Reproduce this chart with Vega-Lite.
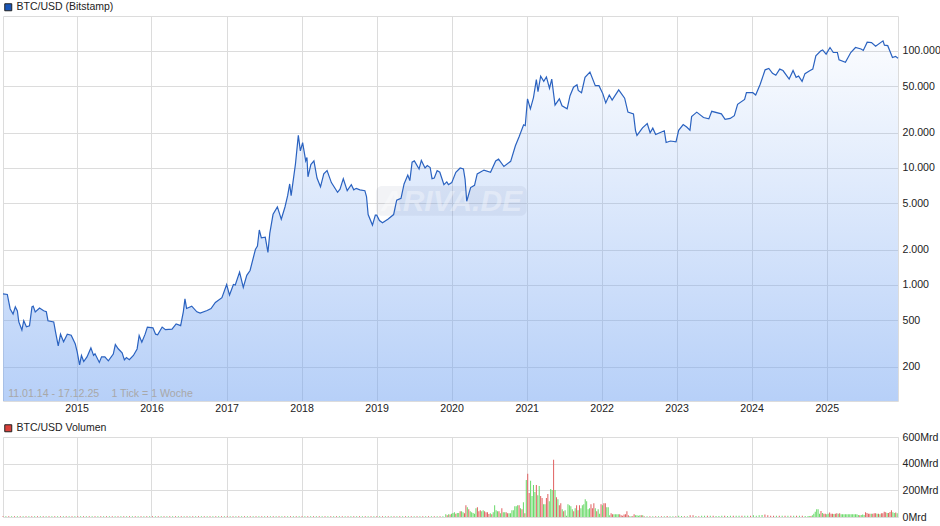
{"$schema":"https://vega.github.io/schema/vega-lite/v6.json","padding":{"left":0,"top":1,"right":0,"bottom":0},"background":"white","bounds":"flush","spacing":36,"resolve":{"scale":{"fill":"independent","color":"independent"},"legend":{"fill":"independent"}},"config":{"view":{"stroke":"#dcdcdc","strokeWidth":1},"font":"Liberation Sans","axis":{"gridColor":"#dcdcdc","gridWidth":1,"ticks":false,"domain":false,"labelFont":"Liberation Sans","labelFontSize":10.6,"labelColor":"#222222","title":null,"labelOverlap":false,"labelBound":false,"labelFlush":false},"legend":{"orient":"none","legendX":0,"padding":0,"title":null,"symbolType":"square","symbolSize":49,"symbolStrokeColor":"#222222","symbolStrokeWidth":1,"labelFont":"Liberation Sans","labelFontSize":10.5,"labelColor":"#222222","labelOffset":3}},"datasets":{"price":[
{"d":"2014-01-11","p":840},{"d":"2014-02-01","p":830},{"d":"2014-02-15","p":624},{"d":"2014-03-01","p":565},{"d":"2014-03-12","p":650},{"d":"2014-03-22","p":600},{"d":"2014-03-29","p":483},{"d":"2014-04-13","p":412},{"d":"2014-04-22","p":495},{"d":"2014-05-05","p":440},{"d":"2014-05-20","p":448},{"d":"2014-06-01","p":650},{"d":"2014-06-07","p":660},{"d":"2014-06-17","p":588},{"d":"2014-07-08","p":635},{"d":"2014-07-28","p":602},{"d":"2014-08-10","p":590},{"d":"2014-08-18","p":495},{"d":"2014-09-15","p":483},{"d":"2014-09-24","p":396},{"d":"2014-10-07","p":302},{"d":"2014-10-18","p":380},{"d":"2014-11-02","p":327},{"d":"2014-11-20","p":380},{"d":"2014-12-09","p":372},{"d":"2014-12-29","p":313},{"d":"2015-01-07","p":270},{"d":"2015-01-19","p":208},{"d":"2015-01-28","p":250},{"d":"2015-02-08","p":222},{"d":"2015-02-24","p":243},{"d":"2015-03-15","p":290},{"d":"2015-03-28","p":250},{"d":"2015-04-04","p":258},{"d":"2015-04-25","p":218},{"d":"2015-05-06","p":243},{"d":"2015-05-22","p":243},{"d":"2015-06-08","p":225},{"d":"2015-07-02","p":257},{"d":"2015-07-12","p":310},{"d":"2015-07-26","p":285},{"d":"2015-08-14","p":263},{"d":"2015-08-25","p":229},{"d":"2015-09-04","p":240},{"d":"2015-09-18","p":230},{"d":"2015-10-08","p":250},{"d":"2015-10-26","p":284},{"d":"2015-11-05","p":370},{"d":"2015-11-18","p":325},{"d":"2015-12-04","p":380},{"d":"2015-12-15","p":437},{"d":"2016-01-11","p":430},{"d":"2016-01-24","p":380},{"d":"2016-02-03","p":375},{"d":"2016-02-25","p":437},{"d":"2016-03-12","p":415},{"d":"2016-04-13","p":420},{"d":"2016-05-03","p":465},{"d":"2016-05-25","p":450},{"d":"2016-06-07","p":590},{"d":"2016-06-15","p":760},{"d":"2016-06-23","p":630},{"d":"2016-07-18","p":660},{"d":"2016-08-12","p":590},{"d":"2016-08-28","p":575},{"d":"2016-10-01","p":605},{"d":"2016-10-20","p":630},{"d":"2016-11-10","p":710},{"d":"2016-12-12","p":780},{"d":"2017-01-04","p":1010},{"d":"2017-01-18","p":820},{"d":"2017-02-06","p":1010},{"d":"2017-02-15","p":1000},{"d":"2017-03-08","p":1290},{"d":"2017-03-26","p":955},{"d":"2017-04-12","p":1210},{"d":"2017-04-28","p":1330},{"d":"2017-05-24","p":2010},{"d":"2017-06-03","p":2150},{"d":"2017-06-12","p":2950},{"d":"2017-06-22","p":2530},{"d":"2017-07-11","p":2560},{"d":"2017-07-24","p":1900},{"d":"2017-08-02","p":2760},{"d":"2017-08-18","p":4020},{"d":"2017-09-08","p":4650},{"d":"2017-09-27","p":3650},{"d":"2017-10-15","p":4640},{"d":"2017-10-28","p":5800},{"d":"2017-11-07","p":7300},{"d":"2017-11-14","p":5800},{"d":"2017-12-05","p":10800},{"d":"2017-12-19","p":19000},{"d":"2017-12-29","p":14000},{"d":"2018-01-09","p":16500},{"d":"2018-01-24","p":11500},{"d":"2018-01-30","p":12300},{"d":"2018-02-04","p":8400},{"d":"2018-02-18","p":10700},{"d":"2018-03-05","p":11500},{"d":"2018-03-20","p":8200},{"d":"2018-04-06","p":6900},{"d":"2018-04-22","p":8900},{"d":"2018-05-08","p":9500},{"d":"2018-05-29","p":7500},{"d":"2018-06-28","p":6200},{"d":"2018-07-10","p":6600},{"d":"2018-07-26","p":8100},{"d":"2018-08-14","p":6400},{"d":"2018-09-03","p":7200},{"d":"2018-09-15","p":6500},{"d":"2018-09-27","p":6700},{"d":"2018-10-15","p":6500},{"d":"2018-11-08","p":6400},{"d":"2018-11-16","p":5700},{"d":"2018-11-24","p":4000},{"d":"2018-12-15","p":3250},{"d":"2018-12-29","p":3950},{"d":"2019-01-05","p":3950},{"d":"2019-01-18","p":3550},{"d":"2019-02-02","p":3400},{"d":"2019-02-28","p":3650},{"d":"2019-03-28","p":4000},{"d":"2019-04-12","p":5300},{"d":"2019-05-03","p":5500},{"d":"2019-05-18","p":7300},{"d":"2019-06-05","p":8700},{"d":"2019-06-15","p":7800},{"d":"2019-06-26","p":11200},{"d":"2019-07-07","p":11500},{"d":"2019-07-30","p":9800},{"d":"2019-08-10","p":11600},{"d":"2019-08-28","p":10000},{"d":"2019-09-08","p":10500},{"d":"2019-09-22","p":10100},{"d":"2019-10-01","p":8100},{"d":"2019-10-12","p":8200},{"d":"2019-10-26","p":9500},{"d":"2019-11-08","p":9200},{"d":"2019-11-28","p":7200},{"d":"2019-12-12","p":7600},{"d":"2019-12-20","p":7200},{"d":"2020-01-05","p":7500},{"d":"2020-01-25","p":9200},{"d":"2020-02-15","p":10000},{"d":"2020-03-02","p":9800},{"d":"2020-03-10","p":8000},{"d":"2020-03-18","p":5200},{"d":"2020-04-06","p":6800},{"d":"2020-04-25","p":7100},{"d":"2020-05-08","p":8900},{"d":"2020-06-10","p":9600},{"d":"2020-07-12","p":9200},{"d":"2020-08-06","p":11500},{"d":"2020-08-20","p":11900},{"d":"2020-09-15","p":10300},{"d":"2020-10-18","p":11400},{"d":"2020-11-10","p":15500},{"d":"2020-11-28","p":18500},{"d":"2020-12-20","p":23400},{"d":"2020-12-28","p":23000},{"d":"2021-01-08","p":39000},{"d":"2021-01-22","p":32000},{"d":"2021-02-06","p":40000},{"d":"2021-02-20","p":57000},{"d":"2021-02-28","p":45000},{"d":"2021-03-13","p":60800},{"d":"2021-03-28","p":55000},{"d":"2021-04-10","p":60000},{"d":"2021-04-25","p":48000},{"d":"2021-05-06","p":57500},{"d":"2021-05-22","p":34500},{"d":"2021-06-12","p":39000},{"d":"2021-06-25","p":34000},{"d":"2021-07-20","p":32000},{"d":"2021-08-03","p":41500},{"d":"2021-08-20","p":49000},{"d":"2021-09-06","p":51500},{"d":"2021-09-12","p":46000},{"d":"2021-09-28","p":44000},{"d":"2021-10-15","p":59500},{"d":"2021-11-08","p":66000},{"d":"2021-12-04","p":50500},{"d":"2021-12-22","p":50500},{"d":"2022-01-10","p":43000},{"d":"2022-01-24","p":36000},{"d":"2022-02-10","p":42000},{"d":"2022-02-24","p":38000},{"d":"2022-03-28","p":46500},{"d":"2022-04-26","p":39500},{"d":"2022-05-12","p":30000},{"d":"2022-06-08","p":29000},{"d":"2022-06-18","p":20800},{"d":"2022-06-25","p":19000},{"d":"2022-07-22","p":22000},{"d":"2022-08-14","p":24000},{"d":"2022-08-28","p":20000},{"d":"2022-09-10","p":21900},{"d":"2022-09-24","p":19300},{"d":"2022-11-05","p":20800},{"d":"2022-11-14","p":16500},{"d":"2022-12-05","p":17000},{"d":"2023-01-01","p":16700},{"d":"2023-01-14","p":21000},{"d":"2023-02-05","p":23500},{"d":"2023-02-22","p":22400},{"d":"2023-03-10","p":21000},{"d":"2023-03-18","p":27500},{"d":"2023-04-12","p":30000},{"d":"2023-05-15","p":27000},{"d":"2023-06-10","p":26300},{"d":"2023-06-24","p":30500},{"d":"2023-08-10","p":29000},{"d":"2023-08-28","p":26000},{"d":"2023-09-22","p":26500},{"d":"2023-10-12","p":28000},{"d":"2023-10-28","p":35000},{"d":"2023-12-01","p":38500},{"d":"2023-12-10","p":44000},{"d":"2024-01-10","p":44000},{"d":"2024-01-24","p":42000},{"d":"2024-02-15","p":52000},{"d":"2024-03-10","p":69000},{"d":"2024-03-28","p":71000},{"d":"2024-04-15","p":64500},{"d":"2024-05-01","p":62000},{"d":"2024-05-20","p":70000},{"d":"2024-06-05","p":68000},{"d":"2024-07-05","p":57500},{"d":"2024-07-24","p":68000},{"d":"2024-08-08","p":59500},{"d":"2024-08-20","p":61000},{"d":"2024-09-06","p":55000},{"d":"2024-09-20","p":64000},{"d":"2024-10-15","p":68000},{"d":"2024-10-28","p":70000},{"d":"2024-11-12","p":91000},{"d":"2024-12-05","p":100000},{"d":"2024-12-15","p":102000},{"d":"2025-01-01","p":94000},{"d":"2025-01-20","p":107000},{"d":"2025-02-05","p":97000},{"d":"2025-02-25","p":97000},{"d":"2025-03-05","p":84000},{"d":"2025-04-05","p":80000},{"d":"2025-05-01","p":97000},{"d":"2025-05-24","p":107000},{"d":"2025-06-20","p":104000},{"d":"2025-07-01","p":101000},{"d":"2025-07-20","p":119000},{"d":"2025-08-10","p":118000},{"d":"2025-08-30","p":110000},{"d":"2025-10-05","p":122000},{"d":"2025-10-12","p":112000},{"d":"2025-10-28","p":111000},{"d":"2025-11-20","p":88000},{"d":"2025-12-05","p":90000},{"d":"2025-12-17","p":86500}],
"vol":[
{"d":"2014-01-11","v":5,"c":"r"},{"d":"2014-01-25","v":5,"c":"g"},{"d":"2014-02-08","v":5,"c":"r"},{"d":"2014-02-22","v":5,"c":"g"},{"d":"2014-03-08","v":5,"c":"r"},{"d":"2014-03-22","v":5,"c":"g"},{"d":"2014-04-05","v":5,"c":"r"},{"d":"2014-04-19","v":5,"c":"g"},{"d":"2014-05-03","v":5,"c":"r"},{"d":"2014-05-17","v":5,"c":"g"},{"d":"2014-05-31","v":5,"c":"r"},{"d":"2014-06-14","v":5,"c":"g"},{"d":"2014-06-28","v":5,"c":"r"},{"d":"2014-07-12","v":5,"c":"g"},{"d":"2014-07-26","v":5,"c":"r"},{"d":"2014-08-09","v":5,"c":"g"},{"d":"2014-08-23","v":5,"c":"r"},{"d":"2014-09-06","v":5,"c":"g"},{"d":"2014-09-20","v":5,"c":"r"},{"d":"2014-10-04","v":5,"c":"g"},{"d":"2014-10-18","v":5,"c":"r"},{"d":"2014-11-01","v":5,"c":"g"},{"d":"2014-11-15","v":5,"c":"r"},{"d":"2014-11-29","v":5,"c":"g"},{"d":"2014-12-13","v":5,"c":"r"},{"d":"2014-12-27","v":5,"c":"g"},{"d":"2015-01-10","v":5,"c":"r"},{"d":"2015-01-24","v":5,"c":"g"},{"d":"2015-02-07","v":5,"c":"r"},{"d":"2015-02-21","v":5,"c":"g"},{"d":"2015-03-07","v":5,"c":"r"},{"d":"2015-03-21","v":5,"c":"g"},{"d":"2015-04-04","v":5,"c":"r"},{"d":"2015-04-18","v":5,"c":"g"},{"d":"2015-05-02","v":5,"c":"r"},{"d":"2015-05-16","v":5,"c":"g"},{"d":"2015-05-30","v":5,"c":"r"},{"d":"2015-06-13","v":5,"c":"g"},{"d":"2015-06-27","v":5,"c":"r"},{"d":"2015-07-11","v":5,"c":"g"},{"d":"2015-07-25","v":5,"c":"r"},{"d":"2015-08-08","v":5,"c":"g"},{"d":"2015-08-22","v":5,"c":"r"},{"d":"2015-09-05","v":5,"c":"g"},{"d":"2015-09-19","v":5,"c":"r"},{"d":"2015-10-03","v":5,"c":"g"},{"d":"2015-10-17","v":5,"c":"r"},{"d":"2015-10-31","v":5,"c":"g"},{"d":"2015-11-14","v":5,"c":"r"},{"d":"2015-11-28","v":5,"c":"g"},{"d":"2015-12-12","v":5,"c":"r"},{"d":"2015-12-26","v":5,"c":"g"},{"d":"2016-01-09","v":5,"c":"r"},{"d":"2016-01-23","v":5,"c":"g"},{"d":"2016-02-06","v":5,"c":"r"},{"d":"2016-02-20","v":5,"c":"g"},{"d":"2016-03-05","v":5,"c":"r"},{"d":"2016-03-19","v":5,"c":"g"},{"d":"2016-04-02","v":5,"c":"r"},{"d":"2016-04-16","v":5,"c":"g"},{"d":"2016-04-30","v":5,"c":"r"},{"d":"2016-05-14","v":5,"c":"g"},{"d":"2016-05-28","v":5,"c":"r"},{"d":"2016-06-11","v":5,"c":"g"},{"d":"2016-06-25","v":5,"c":"r"},{"d":"2016-07-09","v":5,"c":"g"},{"d":"2016-07-23","v":5,"c":"r"},{"d":"2016-08-06","v":5,"c":"g"},{"d":"2016-08-20","v":5,"c":"r"},{"d":"2016-09-03","v":5,"c":"g"},{"d":"2016-09-17","v":5,"c":"r"},{"d":"2016-10-01","v":5,"c":"g"},{"d":"2016-10-15","v":5,"c":"r"},{"d":"2016-10-29","v":5,"c":"g"},{"d":"2016-11-12","v":5,"c":"r"},{"d":"2016-11-26","v":5,"c":"g"},{"d":"2016-12-10","v":5,"c":"r"},{"d":"2016-12-24","v":5,"c":"g"},{"d":"2017-01-07","v":5,"c":"r"},{"d":"2017-01-21","v":5,"c":"g"},{"d":"2017-02-04","v":5,"c":"r"},{"d":"2017-02-18","v":5,"c":"g"},{"d":"2017-03-04","v":5,"c":"r"},{"d":"2017-03-18","v":5,"c":"g"},{"d":"2017-04-01","v":5,"c":"r"},{"d":"2017-04-15","v":5,"c":"g"},{"d":"2017-04-29","v":5,"c":"r"},{"d":"2017-05-13","v":5,"c":"g"},{"d":"2017-05-27","v":5,"c":"r"},{"d":"2017-06-10","v":5,"c":"g"},{"d":"2017-06-24","v":5,"c":"r"},{"d":"2017-07-08","v":5,"c":"g"},{"d":"2017-07-22","v":5,"c":"r"},{"d":"2017-08-05","v":5,"c":"g"},{"d":"2017-08-19","v":5,"c":"r"},{"d":"2017-09-02","v":5,"c":"g"},{"d":"2017-09-16","v":5,"c":"r"},{"d":"2017-09-30","v":5,"c":"g"},{"d":"2017-10-14","v":5,"c":"r"},{"d":"2017-10-28","v":5,"c":"g"},{"d":"2017-11-11","v":5,"c":"r"},{"d":"2017-11-25","v":5,"c":"g"},{"d":"2017-12-09","v":5,"c":"r"},{"d":"2017-12-23","v":5,"c":"g"},{"d":"2018-01-06","v":5,"c":"r"},{"d":"2018-01-20","v":5,"c":"g"},{"d":"2018-02-03","v":5,"c":"r"},{"d":"2018-02-17","v":5,"c":"g"},{"d":"2018-03-03","v":5,"c":"r"},{"d":"2018-03-17","v":5,"c":"g"},{"d":"2018-03-31","v":5,"c":"r"},{"d":"2018-04-14","v":5,"c":"g"},{"d":"2018-04-28","v":5,"c":"r"},{"d":"2018-05-12","v":5,"c":"g"},{"d":"2018-05-26","v":5,"c":"r"},{"d":"2018-06-09","v":5,"c":"g"},{"d":"2018-06-23","v":5,"c":"r"},{"d":"2018-07-07","v":5,"c":"g"},{"d":"2018-07-21","v":5,"c":"r"},{"d":"2018-08-04","v":5,"c":"g"},{"d":"2018-08-18","v":5,"c":"r"},{"d":"2018-09-01","v":5,"c":"g"},{"d":"2018-09-15","v":5,"c":"r"},{"d":"2018-09-29","v":5,"c":"g"},{"d":"2018-10-13","v":5,"c":"r"},{"d":"2018-10-27","v":5,"c":"g"},{"d":"2018-11-10","v":5,"c":"r"},{"d":"2018-11-24","v":5,"c":"g"},{"d":"2018-12-08","v":5,"c":"r"},{"d":"2018-12-22","v":5,"c":"g"},{"d":"2019-01-05","v":5,"c":"r"},{"d":"2019-01-19","v":5,"c":"g"},{"d":"2019-02-02","v":5,"c":"r"},{"d":"2019-02-16","v":5,"c":"g"},{"d":"2019-03-02","v":5,"c":"r"},{"d":"2019-03-16","v":5,"c":"g"},{"d":"2019-03-30","v":5,"c":"r"},{"d":"2019-04-13","v":5,"c":"g"},{"d":"2019-04-27","v":5,"c":"r"},{"d":"2019-05-11","v":5,"c":"g"},{"d":"2019-05-25","v":5,"c":"r"},{"d":"2019-06-08","v":5,"c":"g"},{"d":"2019-06-22","v":5,"c":"r"},{"d":"2019-07-06","v":5,"c":"g"},{"d":"2019-07-20","v":5,"c":"r"},{"d":"2019-08-03","v":5,"c":"g"},{"d":"2019-08-17","v":5,"c":"r"},{"d":"2019-08-31","v":5,"c":"g"},{"d":"2019-09-14","v":5,"c":"r"},{"d":"2019-09-28","v":5,"c":"g"},{"d":"2019-10-12","v":5,"c":"r"},{"d":"2019-10-26","v":5,"c":"g"},{"d":"2019-11-09","v":5,"c":"r"},{"d":"2019-11-23","v":5,"c":"g"},
{"d":"2019-12-07","v":20,"c":"g"},{"d":"2019-12-14","v":13,"c":"r"},{"d":"2019-12-21","v":20,"c":"g"},{"d":"2019-12-28","v":18,"c":"r"},{"d":"2020-01-04","v":25,"c":"g"},{"d":"2020-01-11","v":30,"c":"g"},{"d":"2020-01-18","v":35,"c":"g"},{"d":"2020-01-25","v":25,"c":"r"},{"d":"2020-02-01","v":30,"c":"g"},{"d":"2020-02-08","v":30,"c":"g"},{"d":"2020-02-15","v":43,"c":"r"},{"d":"2020-02-22","v":43,"c":"g"},{"d":"2020-02-29","v":35,"c":"g"},{"d":"2020-03-07","v":28,"c":"r"},{"d":"2020-03-14","v":89,"c":"r"},{"d":"2020-03-21","v":73,"c":"g"},{"d":"2020-03-28","v":58,"c":"r"},{"d":"2020-04-04","v":43,"c":"g"},{"d":"2020-04-11","v":35,"c":"g"},{"d":"2020-04-18","v":30,"c":"g"},{"d":"2020-04-25","v":25,"c":"g"},{"d":"2020-05-02","v":66,"c":"g"},{"d":"2020-05-09","v":73,"c":"r"},{"d":"2020-05-16","v":43,"c":"r"},{"d":"2020-05-23","v":51,"c":"r"},{"d":"2020-05-30","v":43,"c":"g"},{"d":"2020-06-06","v":51,"c":"g"},{"d":"2020-06-13","v":43,"c":"r"},{"d":"2020-06-20","v":35,"c":"r"},{"d":"2020-06-27","v":35,"c":"r"},{"d":"2020-07-04","v":23,"c":"r"},{"d":"2020-07-11","v":28,"c":"g"},{"d":"2020-07-18","v":20,"c":"r"},{"d":"2020-07-25","v":35,"c":"g"},{"d":"2020-08-01","v":89,"c":"g"},{"d":"2020-08-08","v":51,"c":"g"},{"d":"2020-08-15","v":43,"c":"g"},{"d":"2020-08-22","v":43,"c":"r"},{"d":"2020-08-29","v":28,"c":"g"},{"d":"2020-09-05","v":66,"c":"r"},{"d":"2020-09-12","v":35,"c":"g"},{"d":"2020-09-19","v":35,"c":"g"},{"d":"2020-09-26","v":35,"c":"r"},{"d":"2020-10-03","v":28,"c":"r"},{"d":"2020-10-10","v":28,"c":"g"},{"d":"2020-10-17","v":28,"c":"g"},{"d":"2020-10-24","v":51,"c":"g"},{"d":"2020-10-31","v":51,"c":"g"},{"d":"2020-11-07","v":81,"c":"g"},{"d":"2020-11-14","v":81,"c":"g"},{"d":"2020-11-21","v":89,"c":"g"},{"d":"2020-11-28","v":89,"c":"r"},{"d":"2020-12-05","v":66,"c":"g"},{"d":"2020-12-12","v":58,"c":"r"},{"d":"2020-12-19","v":111,"c":"g"},{"d":"2020-12-26","v":28,"c":"r"},{"d":"2021-01-02","v":278,"c":"g"},{"d":"2021-01-09","v":324,"c":"r"},{"d":"2021-01-16","v":180,"c":"r"},{"d":"2021-01-23","v":271,"c":"g"},{"d":"2021-01-30","v":157,"c":"g"},{"d":"2021-02-06","v":240,"c":"g"},{"d":"2021-02-13","v":187,"c":"g"},{"d":"2021-02-20","v":240,"c":"r"},{"d":"2021-02-27","v":164,"c":"g"},{"d":"2021-03-06","v":233,"c":"g"},{"d":"2021-03-13","v":157,"c":"r"},{"d":"2021-03-20","v":142,"c":"r"},{"d":"2021-03-27","v":96,"c":"g"},{"d":"2021-04-03","v":96,"c":"g"},{"d":"2021-04-10","v":142,"c":"r"},{"d":"2021-04-17","v":172,"c":"r"},{"d":"2021-04-24","v":119,"c":"g"},{"d":"2021-05-01","v":210,"c":"g"},{"d":"2021-05-08","v":202,"c":"g"},{"d":"2021-05-15","v":430,"c":"r"},{"d":"2021-05-22","v":202,"c":"g"},{"d":"2021-05-29","v":149,"c":"r"},{"d":"2021-06-05","v":134,"c":"g"},{"d":"2021-06-12","v":89,"c":"r"},{"d":"2021-06-19","v":104,"c":"r"},{"d":"2021-06-26","v":58,"c":"g"},{"d":"2021-07-03","v":43,"c":"r"},{"d":"2021-07-10","v":51,"c":"g"},{"d":"2021-07-17","v":10,"c":"g"},{"d":"2021-07-24","v":96,"c":"g"},{"d":"2021-07-31","v":89,"c":"g"},{"d":"2021-08-07","v":81,"c":"g"},{"d":"2021-08-14","v":58,"c":"g"},{"d":"2021-08-21","v":43,"c":"r"},{"d":"2021-08-28","v":66,"c":"g"},{"d":"2021-09-04","v":89,"c":"r"},{"d":"2021-09-11","v":51,"c":"g"},{"d":"2021-09-18","v":89,"c":"r"},{"d":"2021-09-25","v":66,"c":"g"},{"d":"2021-10-02","v":89,"c":"g"},{"d":"2021-10-09","v":96,"c":"g"},{"d":"2021-10-16","v":134,"c":"g"},{"d":"2021-10-23","v":119,"c":"g"},{"d":"2021-10-30","v":58,"c":"g"},{"d":"2021-11-06","v":66,"c":"g"},{"d":"2021-11-13","v":96,"c":"r"},{"d":"2021-11-20","v":66,"c":"r"},{"d":"2021-11-27","v":104,"c":"r"},{"d":"2021-12-04","v":66,"c":"g"},{"d":"2021-12-11","v":43,"c":"r"},{"d":"2021-12-18","v":58,"c":"g"},{"d":"2021-12-25","v":25,"c":"g"},{"d":"2022-01-01","v":96,"c":"r"},{"d":"2022-01-08","v":89,"c":"g"},{"d":"2022-01-15","v":104,"c":"r"},{"d":"2022-01-22","v":104,"c":"r"},{"d":"2022-01-29","v":73,"c":"g"},{"d":"2022-02-05","v":73,"c":"g"},{"d":"2022-02-12","v":13,"c":"g"},{"d":"2022-02-19","v":28,"c":"r"},{"d":"2022-02-26","v":20,"c":"r"},{"d":"2022-03-05","v":20,"c":"g"},{"d":"2022-03-12","v":20,"c":"g"},{"d":"2022-03-19","v":20,"c":"g"},{"d":"2022-03-26","v":20,"c":"g"},{"d":"2022-04-02","v":20,"c":"r"},{"d":"2022-04-09","v":13,"c":"r"},{"d":"2022-04-16","v":10,"c":"r"},{"d":"2022-04-23","v":18,"c":"r"},{"d":"2022-04-30","v":20,"c":"r"},{"d":"2022-05-07","v":43,"c":"r"},{"d":"2022-05-14","v":13,"c":"r"},{"d":"2022-05-21","v":5,"c":"g"},{"d":"2022-05-28","v":5,"c":"g"},{"d":"2022-06-04","v":5,"c":"r"},{"d":"2022-06-11","v":20,"c":"r"},{"d":"2022-06-18","v":13,"c":"g"},{"d":"2022-06-25","v":13,"c":"g"},{"d":"2022-07-02","v":10,"c":"g"},{"d":"2022-07-09","v":13,"c":"g"},{"d":"2022-07-16","v":13,"c":"r"},{"d":"2022-07-23","v":13,"c":"g"},{"d":"2022-07-30","v":5,"c":"r"},
{"d":"2022-08-13","v":5,"c":"g"},{"d":"2022-08-27","v":5,"c":"r"},{"d":"2022-09-10","v":5,"c":"g"},{"d":"2022-09-24","v":5,"c":"r"},{"d":"2022-10-08","v":5,"c":"g"},{"d":"2022-10-22","v":5,"c":"r"},{"d":"2022-11-05","v":5,"c":"g"},{"d":"2022-11-19","v":8,"c":"r"},{"d":"2022-12-03","v":5,"c":"g"},{"d":"2022-12-17","v":5,"c":"g"},{"d":"2022-12-31","v":5,"c":"r"},{"d":"2023-01-14","v":10,"c":"g"},{"d":"2023-01-28","v":8,"c":"g"},{"d":"2023-02-11","v":5,"c":"r"},{"d":"2023-02-25","v":5,"c":"g"},{"d":"2023-03-11","v":13,"c":"r"},{"d":"2023-03-25","v":13,"c":"r"},{"d":"2023-04-08","v":8,"c":"g"},{"d":"2023-04-22","v":5,"c":"r"},{"d":"2023-05-06","v":10,"c":"g"},{"d":"2023-05-20","v":10,"c":"g"},{"d":"2023-06-03","v":10,"c":"r"},{"d":"2023-06-17","v":10,"c":"g"},{"d":"2023-07-01","v":10,"c":"r"},{"d":"2023-07-15","v":8,"c":"g"},{"d":"2023-07-29","v":8,"c":"g"},{"d":"2023-08-12","v":10,"c":"g"},{"d":"2023-08-26","v":10,"c":"r"},{"d":"2023-09-09","v":8,"c":"g"},{"d":"2023-09-23","v":10,"c":"g"},{"d":"2023-10-07","v":10,"c":"r"},{"d":"2023-10-21","v":10,"c":"g"},{"d":"2023-11-04","v":10,"c":"g"},{"d":"2023-11-18","v":10,"c":"r"},{"d":"2023-12-02","v":10,"c":"g"},{"d":"2023-12-16","v":10,"c":"g"},{"d":"2023-12-30","v":10,"c":"r"},{"d":"2024-01-13","v":13,"c":"g"},{"d":"2024-01-27","v":10,"c":"g"},{"d":"2024-02-10","v":13,"c":"g"},{"d":"2024-02-24","v":15,"c":"g"},{"d":"2024-03-09","v":18,"c":"r"},{"d":"2024-03-23","v":13,"c":"r"},{"d":"2024-04-06","v":10,"c":"r"},{"d":"2024-04-20","v":10,"c":"r"},{"d":"2024-05-04","v":10,"c":"g"},{"d":"2024-05-18","v":10,"c":"r"},{"d":"2024-06-01","v":10,"c":"g"},{"d":"2024-06-15","v":10,"c":"r"},{"d":"2024-06-29","v":10,"c":"g"},{"d":"2024-07-13","v":10,"c":"r"},{"d":"2024-07-27","v":10,"c":"g"},{"d":"2024-08-10","v":10,"c":"r"},{"d":"2024-08-24","v":10,"c":"g"},{"d":"2024-09-07","v":10,"c":"r"},{"d":"2024-09-21","v":8,"c":"g"},
{"d":"2024-10-05","v":8,"c":"g"},{"d":"2024-10-12","v":5,"c":"g"},{"d":"2024-10-19","v":8,"c":"r"},{"d":"2024-10-26","v":13,"c":"g"},{"d":"2024-11-02","v":25,"c":"g"},{"d":"2024-11-09","v":40,"c":"g"},{"d":"2024-11-16","v":58,"c":"g"},{"d":"2024-11-23","v":58,"c":"g"},{"d":"2024-11-30","v":25,"c":"g"},{"d":"2024-12-07","v":45,"c":"r"},{"d":"2024-12-14","v":30,"c":"g"},{"d":"2024-12-21","v":25,"c":"r"},{"d":"2024-12-28","v":25,"c":"r"},{"d":"2025-01-04","v":20,"c":"g"},{"d":"2025-01-11","v":25,"c":"g"},{"d":"2025-01-18","v":33,"c":"r"},{"d":"2025-01-25","v":25,"c":"r"},{"d":"2025-02-01","v":25,"c":"r"},{"d":"2025-02-08","v":23,"c":"g"},{"d":"2025-02-15","v":25,"c":"r"},{"d":"2025-02-22","v":28,"c":"r"},{"d":"2025-03-01","v":25,"c":"g"},{"d":"2025-03-08","v":28,"c":"r"},{"d":"2025-03-15","v":20,"c":"g"},{"d":"2025-03-22","v":20,"c":"g"},{"d":"2025-03-29","v":20,"c":"g"},{"d":"2025-04-05","v":20,"c":"g"},{"d":"2025-04-12","v":20,"c":"g"},{"d":"2025-04-19","v":20,"c":"g"},{"d":"2025-04-26","v":20,"c":"g"},{"d":"2025-05-03","v":20,"c":"g"},{"d":"2025-05-10","v":20,"c":"g"},{"d":"2025-05-17","v":20,"c":"g"},{"d":"2025-05-24","v":20,"c":"g"},{"d":"2025-05-31","v":20,"c":"g"},{"d":"2025-06-07","v":15,"c":"g"},{"d":"2025-06-14","v":13,"c":"r"},{"d":"2025-06-21","v":15,"c":"g"},{"d":"2025-06-28","v":18,"c":"g"},{"d":"2025-07-05","v":15,"c":"g"},{"d":"2025-07-12","v":35,"c":"r"},{"d":"2025-07-19","v":30,"c":"r"},{"d":"2025-07-26","v":25,"c":"r"},{"d":"2025-08-02","v":25,"c":"r"},{"d":"2025-08-09","v":25,"c":"g"},{"d":"2025-08-16","v":25,"c":"r"},{"d":"2025-08-23","v":28,"c":"r"},{"d":"2025-08-30","v":28,"c":"r"},{"d":"2025-09-06","v":25,"c":"g"},{"d":"2025-09-13","v":25,"c":"r"},{"d":"2025-09-20","v":20,"c":"g"},{"d":"2025-09-27","v":28,"c":"r"},{"d":"2025-10-04","v":28,"c":"r"},{"d":"2025-10-11","v":40,"c":"r"},{"d":"2025-10-18","v":35,"c":"r"},{"d":"2025-10-25","v":30,"c":"g"},{"d":"2025-11-01","v":30,"c":"r"},{"d":"2025-11-08","v":38,"c":"r"},{"d":"2025-11-15","v":50,"c":"r"},{"d":"2025-11-22","v":35,"c":"g"},{"d":"2025-11-29","v":30,"c":"g"},{"d":"2025-12-06","v":33,"c":"r"},{"d":"2025-12-13","v":28,"c":"g"}]},
"vconcat":[
{"width":895,"height":385,"encoding":{"x":{"field":"d","type":"temporal","scale":{"domain":["2014-01-11","2025-12-17"]},"axis":{"values":["2015-01-04","2016-01-04","2017-01-04","2018-01-04","2019-01-04","2020-01-04","2021-01-04","2022-01-04","2023-01-04","2024-01-04","2025-01-04"],"format":"%Y","grid":true,"labelPadding":2,"labelAlign":"center"}},"y":{"field":"p","type":"quantitative","stack":null,"scale":{"type":"log","domain":[102,199000],"nice":false},"axis":{"orient":"right","values":[200,500,1000,2000,5000,10000,20000,50000,100000],"labelExpr":"replace(format(datum.value,',d'),',','.')","grid":true,"labelPadding":4}}},"layer":[
{"data":{"name":"price"},"mark":{"type":"area","color":{"x1":0,"y1":0,"x2":0,"y2":1,"gradient":"linear","stops":[{"offset":0,"color":"rgba(111,161,241,0.03)"},{"offset":1,"color":"rgba(111,161,241,0.5)"}]}}},
{"data":{"values":[{"d":"2019-01-01","b":"2021-01-04","p":3900,"hi":7000}]},"mark":{"type":"rect","color":"#5a6a8a","opacity":0.08,"cornerRadius":6},"encoding":{"x2":{"field":"b"},"y2":{"field":"hi"}}},
{"data":{"values":[{"d":"2020-01-04","p":5100,"t":"ARIVA.DE"}]},"mark":{"type":"text","font":"Liberation Sans","fontStyle":"italic","fontWeight":"bold","fontSize":30,"color":"#ffffff","opacity":0.35},"encoding":{"text":{"field":"t"}}},
{"data":{"name":"price"},"mark":{"type":"line","color":"#2a62c0","strokeWidth":1.2}},
{"data":{"values":[{"d":"2014-02-05","p":117,"t":"11.01.14 - 17.12.25"},{"d":"2015-06-23","p":117,"t":"1 Tick = 1 Woche"}]},"mark":{"type":"text","align":"left","font":"Liberation Sans","fontSize":10.6,"color":"#a8a8a8"},"encoding":{"text":{"field":"t"}}},
{"data":{"values":[{"d":"2014-01-11","p":102,"n":"BTC/USD (Bitstamp)"}]},"mark":{"type":"square","size":0,"filled":true,"opacity":1},"encoding":{"fill":{"field":"n","type":"nominal","scale":{"range":["#1a56b8"]},"legend":{"legendY":-14}}}}
]},
{"width":895,"height":80,"encoding":{"x":{"field":"d","type":"temporal","scale":{"domain":["2014-01-11","2025-12-17"],"padding":0},"axis":{"values":["2015-01-04","2016-01-04","2017-01-04","2018-01-04","2019-01-04","2020-01-04","2021-01-04","2022-01-04","2023-01-04","2024-01-04","2025-01-04"],"labels":false,"grid":true}},"y":{"field":"v","type":"quantitative","scale":{"domain":[0,600],"nice":false},"axis":{"orient":"right","values":[0,200,400,600],"labelExpr":"datum.value+'Mrd'","grid":true,"labelPadding":4}}},"layer":[
{"data":{"name":"vol"},"mark":{"type":"bar","width":1},"encoding":{"color":{"field":"c","type":"nominal","scale":{"domain":["r","g"],"range":["#e06060","#68d968"]},"legend":null}}},
{"data":{"values":[{"d":"2014-01-11","v":0,"n":"BTC/USD Volumen"}]},"mark":{"type":"square","size":0,"filled":true,"opacity":1},"encoding":{"fill":{"field":"n","type":"nominal","scale":{"range":["#d9403a"]},"legend":{"legendY":-14}}}}
]}
]}
